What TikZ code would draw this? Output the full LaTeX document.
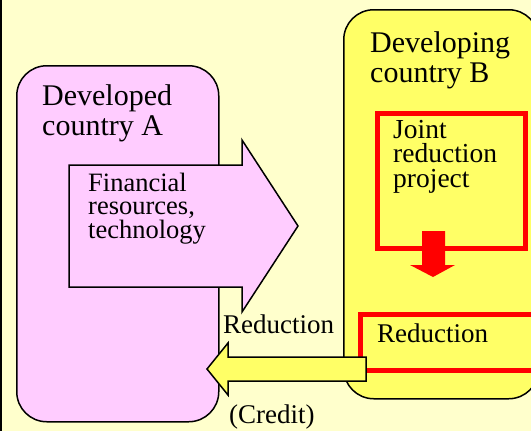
\documentclass[tikz,border=0pt]{standalone}
\usepackage{fontspec}
\setmainfont{Liberation Serif}
\newfontfamily\labelfont{Liberation Serif}
\usetikzlibrary{positioning}

\definecolor{paper}{HTML}{FFFFCC}
\definecolor{pinkfill}{HTML}{FFCCFF}
\definecolor{yellowfill}{HTML}{FFFF66}

\tikzset{
  country/.style={draw=black, line width=1.5pt, rounded corners=30pt, anchor=north west, inner sep=0pt},
  redbox/.style={draw=red, line width=5pt, anchor=north west, inner sep=0pt},
  blockarrow/.style={draw=black, line width=1.5pt, line join=miter},
  bigtext/.style={anchor=base west, inner sep=0pt, align=left, font=\labelfont\fontsize{30}{29.5}\selectfont},
  midtext/.style={anchor=base west, inner sep=0pt, align=left, font=\labelfont\fontsize{27}{24}\selectfont},
}

\begin{document}
\begin{tikzpicture}[x=1pt,y=-1pt]
	\useasboundingbox (0,0) rectangle (531,431);
	\fill[paper] (0,0) rectangle (531,431);
	\draw[line width=2.5pt] (1.2,0) -- (1.2,431);

	% the two countries
	\node[country, fill=pinkfill, minimum width=202pt, minimum height=356pt] (boxA) at (16,65) {};
	\node[country, fill=yellowfill, minimum width=195pt, minimum height=389pt] (boxB) at (343,9) {};

	% project and its reduction
	\node[redbox, minimum width=148.5pt, minimum height=135pt] (project) at (374.5,110.5) {};
	\node[redbox, minimum width=190pt, minimum height=56pt] (reduce) at (357.5,311.5) {};
	\fill[red] (422,231) -- (445,231) -- (445,265) -- (455,265) -- (433,277)
		-- (410,265) -- (422,265) -- cycle;

	% transfers
	\draw[blockarrow, fill=pinkfill] (69,165) -- (242,165) -- (242,140) -- (298,226)
		-- (242,312) -- (242,287) -- (69,287) -- cycle;
	\draw[blockarrow, fill=yellowfill] (366,357) -- (228,357) -- (228,343) -- (207,369)
		-- (228,395) -- (228,381) -- (366,381) -- cycle;

	% labels (anchored on the last line)
	\node[bigtext] (nameA) at (42,135) {Developed\\country A};
	\node[bigtext] (nameB) at (370,82) {Developing\\country B};
	\node[midtext, font=\labelfont\fontsize{26.5}{23.5}\selectfont] (finance) at (88,238) {Financial\\resources,\\technology};
	\node[midtext, font=\labelfont\fontsize{27.5}{24.5}\selectfont] (joint) at (393,187) {Joint\\reduction\\project};
	\node[midtext] (result) at (377,342) {Reduction};
	\node[midtext] (transfer) at (223,333) {Reduction};
	\node[midtext] (credit) at (229,423) {(Credit)};
\end{tikzpicture}
\end{document}
